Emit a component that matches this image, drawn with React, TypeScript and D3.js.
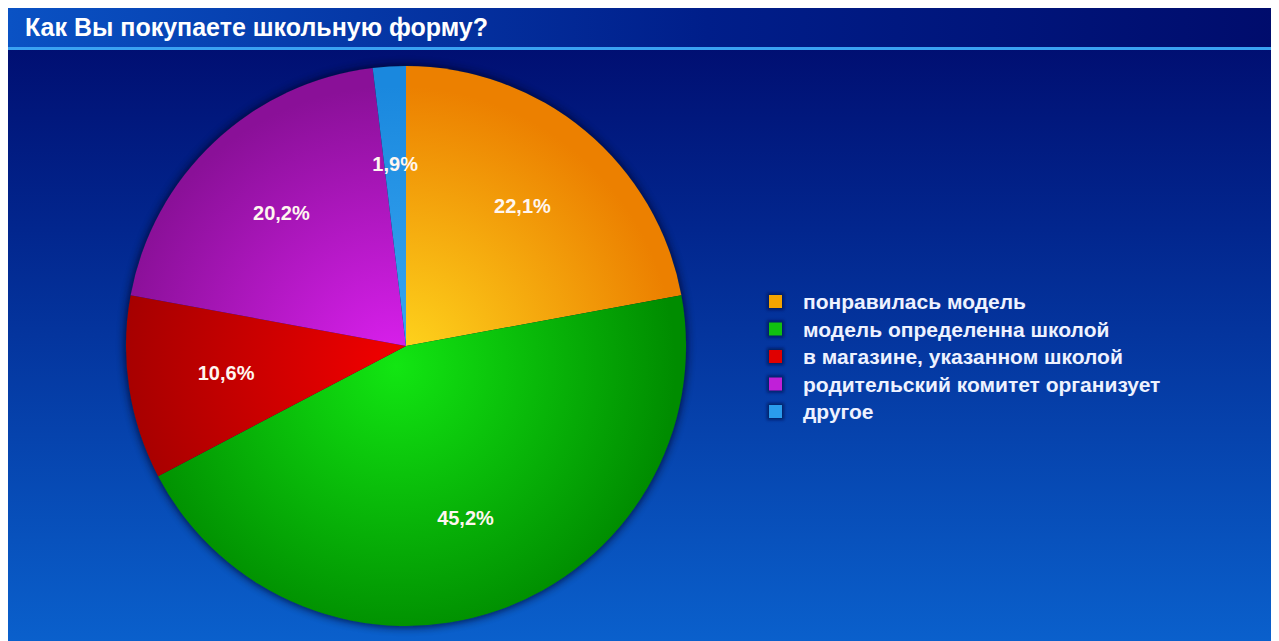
import * as d3 from 'd3';

const title = 'Как Вы покупаете школьную форму?';
const categories = [
  'понравилась модель',
  'модель определенна школой',
  'в магазине, указанном школой',
  'родительский комитет организует',
  'другое',
];
const values = [22.1, 45.2, 10.6, 20.2, 1.9];
const labels = ['22,1%', '45,2%', '10,6%', '20,2%', '1,9%'];
// [inner (bright), outer (dark)] per slice
const colors = [
  ['#ffd81e', '#ec8000'],
  ['#12e612', '#008c00'],
  ['#f20000', '#a40000'],
  ['#dc20f0', '#8a1098'],
  ['#3aa8f2', '#1a88de'],
];
const legendColors = ['#f4a400', '#10c010', '#e00000', '#c020d8', '#2a9cec'];

const W = 1271;
const H = 633;

export default function App() {
  const cx = 398;
  const cy = 338;
  const r = 280;

  const pie = d3.pie<number>().value(d => d).sort(null);
  const arcs = pie(values);
  const arc = d3.arc<d3.PieArcDatum<number>>().innerRadius(0).outerRadius(r);
  const labelArc = d3.arc<d3.PieArcDatum<number>>().innerRadius(r * 0.65).outerRadius(r * 0.65);

  const legendY = d3.scalePoint<number>().domain(d3.range(categories.length)).range([294, 404]);

  return (
    <svg width={W} height={H} style={{ display: 'block', fontFamily: 'Liberation Sans, Arial, sans-serif' }}>
      <defs>
        <linearGradient id="bg" x1="0" y1="0" x2="0" y2="1">
          <stop offset="0%" stopColor="#000a6c" />
          <stop offset="35%" stopColor="#02268e" />
          <stop offset="100%" stopColor="#0a60cc" />
        </linearGradient>
        <linearGradient id="titleBg" x1="0" y1="0" x2="1" y2="0">
          <stop offset="0%" stopColor="#0a52c4" />
          <stop offset="55%" stopColor="#001e8a" />
          <stop offset="100%" stopColor="#000c6c" />
        </linearGradient>
        {colors.map((c, i) => (
          <radialGradient key={i} id={`sl${i}`} gradientUnits="userSpaceOnUse" cx={-10} cy={20} r={r}>
            <stop offset="0%" stopColor={c[0]} />
            <stop offset="100%" stopColor={c[1]} />
          </radialGradient>
        ))}
        <filter id="shadow" x="-10%" y="-10%" width="120%" height="120%">
          <feGaussianBlur stdDeviation="4" />
        </filter>
        <filter id="glow" x="-30%" y="-30%" width="160%" height="160%">
          <feGaussianBlur stdDeviation="1.5" />
        </filter>
      </defs>

      <rect x={0} y={0} width={W} height={H} fill="url(#bg)" />
      <rect x={0} y={0} width={W} height={39} fill="url(#titleBg)" />
      <rect x={0} y={39} width={W} height={3} fill="#3aa2f2" />
      <text x={17} y={28} fill="#ffffff" fontSize={25} fontWeight="bold">{title}</text>

      <circle cx={cx} cy={cy} r={r + 1} fill="#000820" filter="url(#shadow)" opacity={0.8} />
      <g transform={`translate(${cx},${cy})`}>
        {arcs.map((a, i) => (
          <path key={i} d={arc(a) ?? ''} fill={`url(#sl${i})`} />
        ))}
        {arcs.map((a, i) => {
          const [x, y] = labelArc.centroid(a);
          return (
            <text key={i} x={x} y={y} dy="0.35em" textAnchor="middle" fill="#fff6f0" fontSize={20} fontWeight="bold">
              {labels[i]}
            </text>
          );
        })}
      </g>

      <g>
        {categories.map((c, i) => (
          <g key={i} transform={`translate(760,${legendY(i)})`}>
            <rect x={-1} y={-9} width={17} height={17} fill="#000a40" opacity={0.6} filter="url(#glow)" />
            <rect x={1} y={-7} width={13} height={13} fill={legendColors[i]} />
            <text x={35} y={0} dy="0.35em" fill="#eef2ff" fontSize={21} fontWeight="bold">{c}</text>
          </g>
        ))}
      </g>
    </svg>
  );
}
